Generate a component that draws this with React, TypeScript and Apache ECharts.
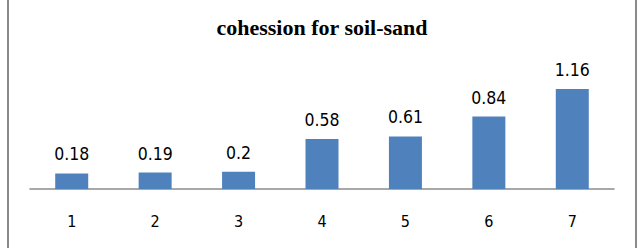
import React, { useEffect, useRef } from "react";
import * as echarts from "echarts";

const categories = ["1", "2", "3", "4", "5", "6", "7"];
const values = [0.18, 0.19, 0.2, 0.58, 0.61, 0.84, 1.16];
const title = "cohession for soil-sand";

export default function App() {
  const ref = useRef<HTMLDivElement>(null);
  useEffect(() => {
    if (!ref.current) return;
    const chart = echarts.init(ref.current, null, { renderer: "svg" });
    chart.setOption({
      animation: false,
      backgroundColor: "#ffffff",
      title: {
        text: title,
        left: "center",
        top: 11,
        textStyle: {
          fontFamily: "Liberation Serif",
          fontWeight: "bold",
          fontSize: 22,
          color: "#000",
        },
      },
      graphic: [
        {
          type: "rect",
          shape: { x: 8, y: -5, width: 628, height: 270 },
          style: { fill: "none", stroke: "#8a8a8a", lineWidth: 2 },
          silent: true,
        },
      ],
      grid: { left: 30, right: 30, top: 68.3, bottom: 59 },
      xAxis: {
        type: "category",
        data: categories,
        axisLine: { lineStyle: { color: "#8c8c8c", width: 1.5 } },
        axisTick: { show: false },
        axisLabel: {
          margin: 24,
          fontFamily: "DejaVu Sans Condensed",
          fontSize: 16,
          color: "#000",
        },
      },
      yAxis: {
        type: "value",
        min: 0,
        max: 1.4,
        show: false,
      },
      series: [
        {
          type: "bar",
          data: values,
          barWidth: 33,
          itemStyle: { color: "#4F81BD" },
          label: {
            show: true,
            position: "top",
            distance: 10,
            fontFamily: "DejaVu Sans Condensed",
            fontSize: 17.5,
            color: "#000",
          },
        },
      ],
    });
    return () => chart.dispose();
  }, []);
  return (
    <div
      ref={ref}
      style={{ position: "absolute", left: 0, top: 0, width: 644, height: 248 }}
    />
  );
}
